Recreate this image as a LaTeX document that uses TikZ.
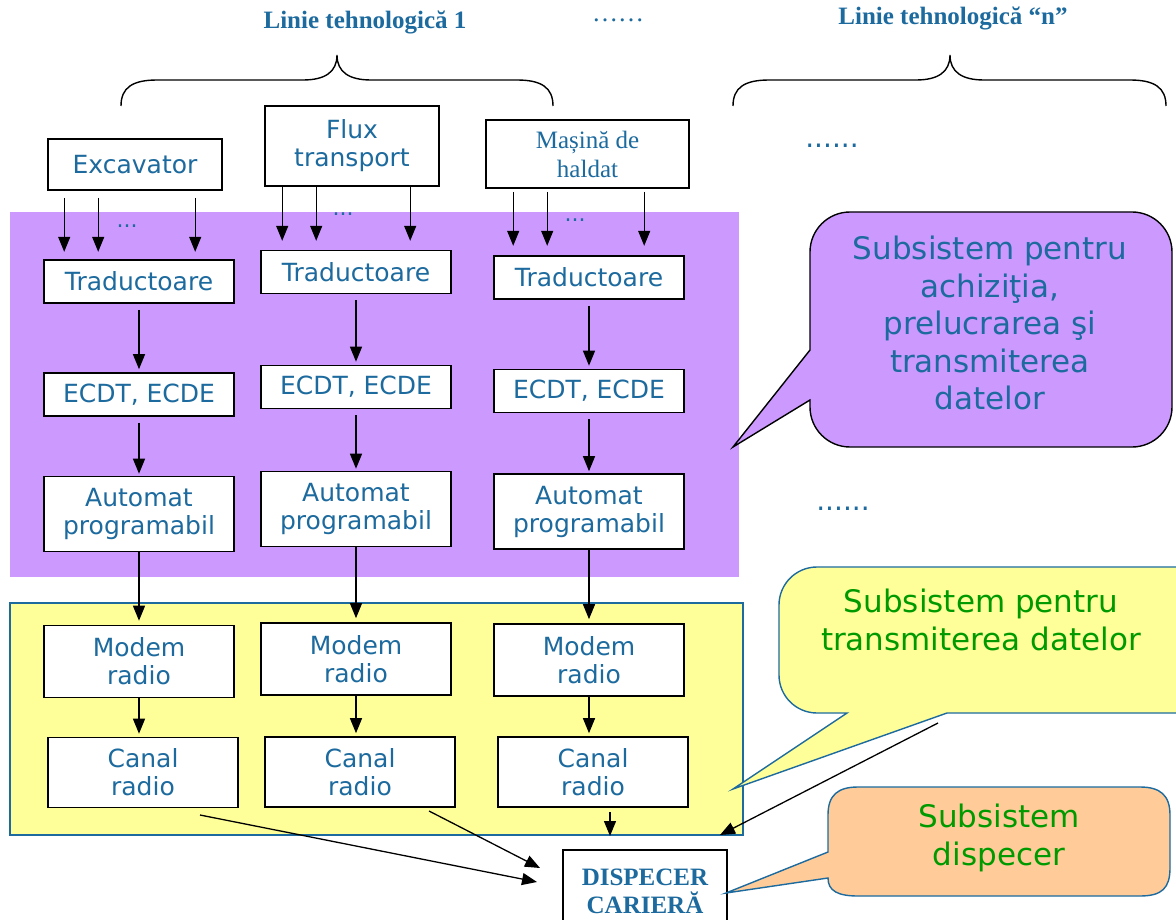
\documentclass[tikz,border=0pt]{standalone}
\usepackage{fontspec}
\setmainfont{Liberation Serif}
\newfontfamily\verdanafont{DejaVu Sans}
\usepackage{xcolor}
\definecolor{lineBlue}{HTML}{1C6A9E}
\definecolor{noteGreen}{HTML}{009A00}
\definecolor{acqPurple}{HTML}{CC99FF}
\definecolor{txYellow}{HTML}{FFFF99}
\definecolor{dispOrange}{HTML}{FFCC99}
\usepackage{tikz}
\usetikzlibrary{arrows.meta,calc}

\begin{document}
\begin{tikzpicture}[
  x=1pt, y=-1pt,
  box/.style={draw=black, line width=1.6pt, fill=white, text=lineBlue, minimum width=190pt, inner sep=2pt, align=center, font=\verdanafont\fontsize{25}{28}\selectfont},
  serifBox/.style={box, font=\fontsize{25}{29}\selectfont},
  arr/.style={black, line width=1.3pt, -{Triangle[length=15pt,width=12pt]}},
  brace/.style={black, line width=1.4pt},
  titleText/.style={text=lineBlue, font=\bfseries\fontsize{25}{30}\selectfont},
  dotsText/.style={text=lineBlue, font=\verdanafont\fontsize{28}{30}\selectfont},
  noteText/.style={align=center, font=\verdanafont\fontsize{31}{37.5}\selectfont},
]

\clip (0,0) rectangle (1176,920);
\fill[white] (0,0) rectangle (1176,920);

% subsystem backgrounds
\fill[acqPurple] (10,212) rectangle (739,577);
\filldraw[fill=txYellow, draw=lineBlue, line width=1.4pt] (10,603) rectangle (743,835);

% technological lines: titles and braces
\node[titleText] (line1) at (365,22) {Linie tehnologică 1};
\node[titleText, font=\fontsize{26}{30}\selectfont] (lineDots) at (618,20) {……};
\node[titleText] (lineN) at (953,18) {Linie tehnologică “n”};
\foreach \l/\m/\r in {121/337/553, 733/950/1166} {
  \draw[brace] (\l,106) .. controls (\l,88) and (\l+11,80) .. (\l+36,80)
    -- (\m-34,80) .. controls (\m-12,80) and (\m,72) .. (\m,55)
    .. controls (\m,72) and (\m+12,80) .. (\m+34,80)
    -- (\r-36,80) .. controls (\r-11,80) and (\r,88) .. (\r,106);
}

% machines of line 1
\node[box, minimum width=174pt, minimum height=51pt] (exc) at (135,164.5) {Excavator};
\node[box, minimum width=174pt, minimum height=80pt] (flux) at (352,146) {Flux\\transport};
\node[serifBox, minimum width=203pt, minimum height=68pt] (masina) at (587.5,154) {Mașină de\\haldat};

% signals towards the transducers
\foreach \m/\a/\b/\c/\g in {exc/17/51/148/7, flux/18/52/146/0, masina/28/62/159/3} {
  \foreach \dx in {\a,\b,\c}
    \draw[arr] ($(\m.south west)+(\dx,\g)$) -- ++(0,54);
}
\foreach \i/\x/\y in {1/127/226, 2/343/214, 3/575/220} {
  \node[dotsText, font=\verdanafont\fontsize{22}{26}\selectfont] (sig\i) at (\x,\y) {...};
}

% processing chain, one column per machine
\foreach \i/\x/\y in {1/139/281.5, 2/356/272, 3/589/277.5} {
  \node[box, minimum height=43pt] (trad\i) at (\x,\y) {Traductoare};
}
\foreach \i/\x/\y in {1/139/394.5, 2/356/387, 3/589/391} {
  \node[box, minimum height=43pt] (ecdt\i) at (\x,\y) {ECDT, ECDE};
}
\foreach \i/\x/\y in {1/139/514, 2/356/509, 3/589/511.5} {
  \node[box, minimum height=75pt] (auto\i) at (\x,\y) {Automat\\programabil};
}
\foreach \i/\x/\y in {1/139/661.5, 2/356/659, 3/589/660} {
  \node[box, minimum height=72pt] (modem\i) at (\x,\y) {Modem\\radio};
}
\foreach \i/\x/\y in {1/143/772.5, 2/360/772, 3/593/772} {
  \node[box, minimum height=70pt] (canal\i) at (\x,\y) {Canal\\radio};
}

\foreach \i in {1,2,3} {
  \draw[arr, shorten <=6pt, shorten >=3pt] (trad\i) -- (ecdt\i);
  \draw[arr, shorten <=6pt, shorten >=2pt] (ecdt\i) -- (auto\i);
  \draw[arr, shorten >=4pt] (auto\i) -- (modem\i);
  \draw[arr, shorten >=3pt] (modem\i.south) -- (modem\i.south |- canal\i.north);
}

% dispatcher
\node[serifBox, font=\bfseries\fontsize{25}{28}\selectfont, minimum width=164pt, minimum height=82pt, line width=1.2pt] (disp) at (645,891) {DISPECER\\CARIERĂ};

\coordinate (c1out) at (200,815);
\coordinate (c2out) at (429,811);
\coordinate (c3out) at (610,812);
\coordinate (d1in) at (537,882);
\coordinate (d2in) at (540,868);
\coordinate (txEdge) at (610,836);
\draw[arr] (c1out) -- (d1in);
\draw[arr] (c2out) -- (d2in);
\draw[arr] (c3out) -- (txEdge);

% other lines
\node[dotsText] (moreTop) at (832,146) {......};
\node[dotsText] (moreMid) at (843,509) {......};

% callouts
\filldraw[fill=acqPurple, draw=black, line width=1.4pt] (733,447) -- (810,400)
  {[rounded corners=40pt] -- (810,447) -- (1172,447) -- (1172,212) -- (810,212)} -- (810,350) -- cycle;
\node[noteText, text=lineBlue] (acqNote) at (990,323) {Subsistem pentru\\achiziţia,\\prelucrarea şi\\transmiterea\\datelor};

\filldraw[fill=txYellow, draw=lineBlue, line width=1.4pt] (733,789) -- (847,713)
  {[rounded corners=38pt] -- (779,713) -- (779,567) -- (1215,567) -- (1215,713)} -- (947,713) -- cycle;
\node[noteText, text=noteGreen] (txNote) at (981,620) {Subsistem pentru\\transmiterea datelor};

\filldraw[fill=dispOrange, draw=lineBlue, line width=1.4pt] (726,893) -- (828,878)
  .. controls (828,891) and (838,896) .. (858,896) -- (1140,896)
  .. controls (1162,896) and (1170,888) .. (1170,868) -- (1170,815)
  .. controls (1170,795) and (1160,787) .. (1140,787) -- (858,787)
  .. controls (838,787) and (828,795) .. (828,815) -- (828,852) -- cycle;
\node[noteText, text=noteGreen] (dispNote) at (999,838) {Subsistem\\dispecer};

\coordinate (txNoteTip) at (938,723);
\coordinate (txCorner) at (720,835);
\draw[arr] (txNoteTip) -- (txCorner);

\end{tikzpicture}
\end{document}
